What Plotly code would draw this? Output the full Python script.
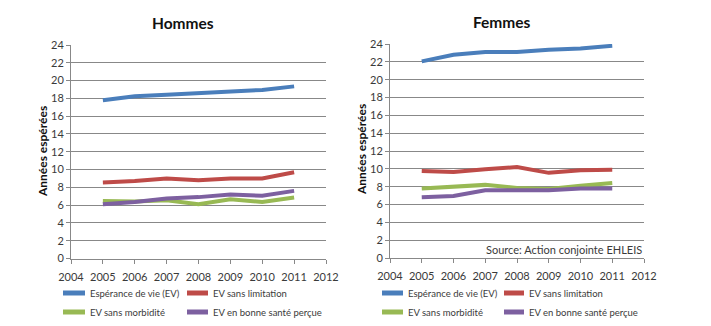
import plotly.graph_objects as go

years = [2005, 2006, 2007, 2008, 2009, 2010, 2011]
series_names = ["Espérance de vie (EV)", "EV sans limitation", "EV sans morbidité", "EV en bonne santé perçue"]
colors = ["#4A7EBB", "#BE4B48", "#98B954", "#7D60A0"]

hommes_ev = [17.8, 18.25, 18.4, 18.55, 18.75, 18.95, 19.35]
hommes_lim = [8.55, 8.7, 9.0, 8.8, 9.0, 9.0, 9.7]
hommes_morb = [6.45, 6.4, 6.55, 6.1, 6.65, 6.35, 6.85]
hommes_sante = [6.1, 6.35, 6.75, 6.9, 7.2, 7.05, 7.6]

femmes_ev = [22.05, 22.8, 23.1, 23.1, 23.35, 23.5, 23.8]
femmes_lim = [9.75, 9.65, 9.95, 10.2, 9.55, 9.85, 9.9]
femmes_morb = [7.8, 8.0, 8.2, 7.85, 7.75, 8.1, 8.4]
femmes_sante = [6.8, 6.95, 7.6, 7.6, 7.6, 7.8, 7.8]

y_ticks = list(range(0, 25, 2))
x_ticks = list(range(2004, 2013))

FONT = "Lato, 'Open Sans', sans-serif"
TXT = "#3a3a3a"
GRID = "#888888"
W, H = 711, 326


def px_x(p):
    return p / W


def px_y(p):
    return 1 - p / H


fig = go.Figure()

panels = [
    ("x", "y", [hommes_ev, hommes_lim, hommes_morb, hommes_sante]),
    ("x2", "y2", [femmes_ev, femmes_lim, femmes_morb, femmes_sante]),
]
for xa, ya, data in panels:
    for name, col, vals in zip(series_names, colors, data):
        fig.add_trace(go.Scatter(
            x=years, y=vals, mode="lines", name=name, xaxis=xa, yaxis=ya,
            line=dict(color=col, width=4), showlegend=False,
        ))

ax_common = dict(
    range=[2004, 2012], tickvals=x_ticks, ticks="outside", ticklen=4,
    tickcolor=GRID, showline=True, linecolor=GRID, linewidth=1,
    showgrid=False, zeroline=False, ticklabelstandoff=4,
    tickfont=dict(family=FONT, size=11, color=TXT),
)
ay_common = dict(
    range=[0, 24], tickvals=y_ticks, ticks="outside", ticklen=4,
    tickcolor=GRID, showline=True, linecolor=GRID, linewidth=1,
    showgrid=True, gridcolor=GRID, gridwidth=1, zeroline=False,
    ticklabelstandoff=0,
    tickfont=dict(family=FONT, size=11, color=TXT),
)

fig.update_layout(
    width=W, height=H, margin=dict(l=0, r=0, t=0, b=0, autoexpand=False),
    paper_bgcolor="white", plot_bgcolor="white", showlegend=False,
    font=dict(family=FONT, size=10, color=TXT),
    xaxis=dict(domain=[px_x(71), px_x(326)], anchor="y", **ax_common),
    yaxis=dict(domain=[px_y(258.5), px_y(45)], anchor="x", **ay_common),
    xaxis2=dict(domain=[px_x(390), px_x(644)], anchor="y2", **ax_common),
    yaxis2=dict(domain=[px_y(258), px_y(44)], anchor="x2", **ay_common),
)

# Legend (drawn as key lines + labels below each panel)
legend_cols = {"x": [(63, 85, 88), (187, 208, 211)], "x2": [(382, 403, 406), (504, 524, 527)]}
legend_rows = [293, 312]
for xa, _, _ in panels:
    for i, (name, col) in enumerate(zip(series_names, colors)):
        x0, x1, xt = legend_cols[xa][i % 2]
        yy = px_y(legend_rows[i // 2])
        fig.add_shape(type="line", xref="paper", yref="paper", x0=px_x(x0), x1=px_x(x1),
                      y0=yy, y1=yy, line=dict(color=col, width=5))
        fig.add_annotation(xref="paper", yref="paper", x=px_x(xt), y=yy, text=name,
                           showarrow=False, xanchor="left", yanchor="middle",
                           font=dict(family=FONT, size=9.5, color=TXT))

annotations = [
    dict(text="<b>Hommes</b>", x=px_x(183), y=px_y(23), size=15.5, xanchor="center", angle=0),
    dict(text="<b>Femmes</b>", x=px_x(502), y=px_y(22), size=15.5, xanchor="center", angle=0),
    dict(text="<b>Années espérées</b>", x=px_x(42), y=px_y(152), size=12, xanchor="center", angle=-90),
    dict(text="<b>Années espérées</b>", x=px_x(361), y=px_y(150), size=12, xanchor="center", angle=-90),
    dict(text="Source: Action conjointe EHLEIS", x=px_x(644), y=px_y(249), size=11, xanchor="right", angle=0),
]
for a in annotations:
    fig.add_annotation(xref="paper", yref="paper", showarrow=False, yanchor="middle",
                       x=a["x"], y=a["y"], text=a["text"], xanchor=a["xanchor"],
                       textangle=a["angle"],
                       font=dict(family=FONT, color="#111" if a["size"] > 11.5 else TXT, size=a["size"]))

fig.write_html("out.html")
